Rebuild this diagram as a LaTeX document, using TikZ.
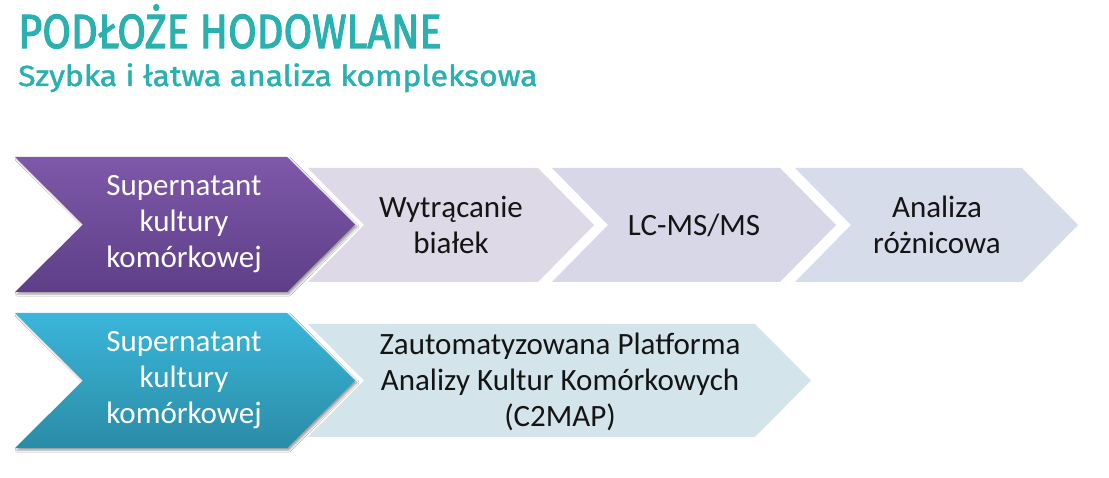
\documentclass[tikz,border=0pt]{standalone}
\usepackage{fontspec}
\setmainfont{Carlito}
\newfontfamily\titlefont{Fira Sans}[FakeBold=2.5]
\newfontfamily\subtitlefont{Fira Sans}[FakeBold=1.5]
\usetikzlibrary{shadows.blur}
\definecolor{titleteal}{HTML}{2AB0AE}
\definecolor{purpTop}{HTML}{7E58AA}
\definecolor{purpBot}{HTML}{5E3F87}
\definecolor{tealTop}{HTML}{3AB6DA}
\definecolor{tealBot}{HTML}{2A8CA6}
\definecolor{lavA}{HTML}{DED9E6}
\definecolor{lavB}{HTML}{D8D7E7}
\definecolor{lavC}{HTML}{D6DCEA}
\definecolor{iceA}{HTML}{D4E4EB}
\definecolor{txtdark}{HTML}{141414}
\newcommand\chev[5]{(#1,#2) -- (#4,#2) -- ({#4+#5},{(#2+#3)/2}) -- (#4,#3) -- (#1,#3) -- ({#1+#5},{(#2+#3)/2}) -- cycle}
\tikzset{
  darkshadow/.style={blur shadow={shadow xshift=2pt,shadow yshift=-2pt,shadow blur steps=5,shadow blur radius=2pt,shadow opacity=40}},
  steptext/.style={align=center,font=\fontsize{31}{36}\selectfont,inner sep=0pt},
  lighttext/.style={steptext,text=txtdark},
  whitetext/.style={steptext,text=white},
}
\begin{document}
\begin{tikzpicture}[x=1pt,y=-1pt]
\useasboundingbox (0,0) rectangle (1109,478);
\fill[white] (0,0) rectangle (1109,478);
% titles
\node[anchor=base west,inner sep=0pt,text=titleteal,font=\titlefont\fontsize{48}{48}\selectfont] (title) at (18,48) {\scalebox{0.865}[1]{PODŁOŻE HODOWLANE}};
\node[anchor=base west,inner sep=0pt,text=titleteal,font=\subtitlefont\fontsize{29}{29}\selectfont] (subtitle) at (18,86) {\scalebox{1.1}[1]{Szybka i łatwa analiza kompleksowa}};
% row 1
\fill[lavC] \chev{795}{168}{282}{1022}{56};
\fill[lavB] \chev{552}{168}{282}{780}{56};
\fill[lavA] \chev{308}{168}{282}{538}{56};
\path[top color=purpTop,bottom color=purpBot,darkshadow] \chev{15}{157}{292}{287}{68};
\node[whitetext] (s1) at (184,224) {Supernatant\\kultury\\komórkowej};
\node[lighttext] (s2) at (451,225) {Wytrącanie\\białek};
\node[lighttext] (s3) at (694,225) {LC-MS/MS};
\node[lighttext] (s4) at (937,225) {Analiza\\różnicowa};
% row 2
\fill[iceA] \chev{308}{324}{437}{755}{56};
\path[top color=tealTop,bottom color=tealBot,darkshadow] \chev{15}{313}{448}{287}{68};
\node[whitetext] (t1) at (184,380) {Supernatant\\kultury\\komórkowej};
\node[lighttext] (t2) at (560,382) {Zautomatyzowana Platforma\\Analizy Kultur Komórkowych\\(C2MAP)};
\end{tikzpicture}
\end{document}
